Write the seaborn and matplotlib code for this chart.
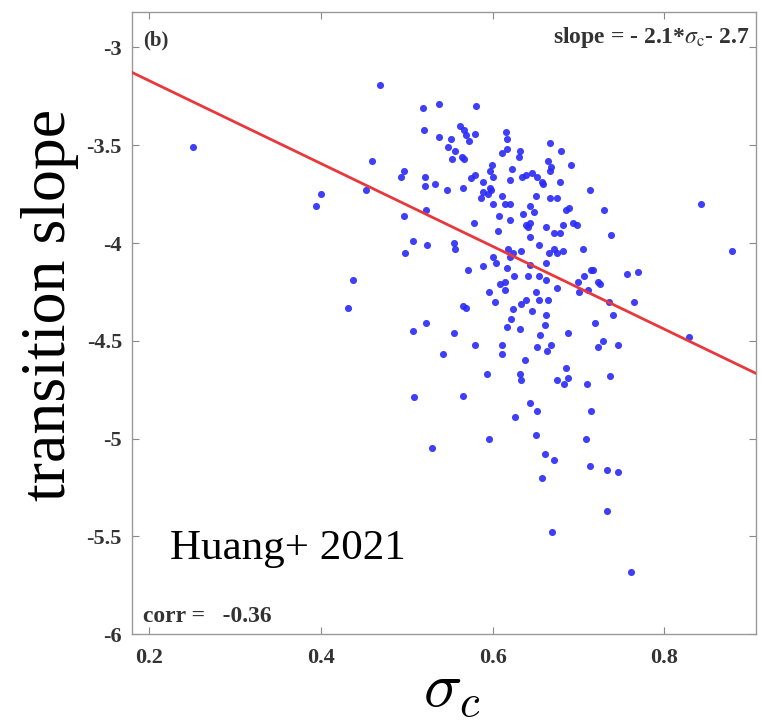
import matplotlib
matplotlib.use("Agg")
import matplotlib.pyplot as plt
import seaborn as sns
import pandas as pd
import numpy as np

sigma_c = [
    0.469, 0.519, 0.538, 0.581, 0.520, 0.538, 0.552, 0.562, 0.567, 0.569,
    0.572, 0.579, 0.548, 0.556, 0.553, 0.564, 0.567, 0.460, 0.400, 0.394,
    0.453, 0.493, 0.497, 0.521, 0.521, 0.533, 0.547, 0.565, 0.575, 0.580,
    0.523, 0.497, 0.578, 0.507, 0.524, 0.498, 0.555, 0.556, 0.571,
    # dense core
    0.616, 0.617, 0.617, 0.611, 0.632, 0.631, 0.667, 0.680, 0.664, 0.668,
    0.667, 0.691, 0.599, 0.597, 0.601, 0.622, 0.634, 0.639, 0.646, 0.652,
    0.658, 0.659, 0.620, 0.679, 0.589, 0.597, 0.589, 0.595, 0.598, 0.586,
    0.601, 0.611, 0.615, 0.620, 0.650, 0.667, 0.675, 0.644, 0.648, 0.635,
    0.685, 0.689, 0.713, 0.730, 0.608, 0.620, 0.606, 0.639, 0.644, 0.641,
    0.662, 0.672, 0.679, 0.682, 0.694, 0.698, 0.643, 0.654, 0.666, 0.671,
    0.675, 0.682, 0.705, 0.738, 0.618, 0.624, 0.620, 0.633, 0.601, 0.604,
    0.589, 0.662, 0.617, 0.643, 0.641, 0.654, 0.706, 0.714, 0.717, 0.756,
    0.769, 0.843, 0.879,
    # lower core
    0.596, 0.603, 0.609, 0.615, 0.615, 0.625, 0.662, 0.651, 0.654, 0.665,
    0.675, 0.699, 0.711, 0.701, 0.723, 0.725, 0.736, 0.764, 0.740, 0.719,
    0.688, 0.829, 0.729, 0.723, 0.746, 0.555, 0.542, 0.580, 0.611, 0.611,
    0.617, 0.621, 0.632, 0.624, 0.633, 0.639, 0.646, 0.655, 0.661, 0.662,
    0.652, 0.663, 0.668, 0.638, 0.594, 0.632, 0.633, 0.685, 0.675, 0.688,
    0.683, 0.710, 0.737, 0.566, 0.644, 0.652, 0.626, 0.714, 0.596, 0.651,
    0.709, 0.566, 0.569,
    # outer points
    0.438, 0.432, 0.507, 0.522, 0.508,
    0.529, 0.661, 0.672, 0.658, 0.713, 0.733, 0.746, 0.733, 0.669, 0.761,
    0.251,
]

transition_slope = [
    -3.19, -3.31, -3.29, -3.30, -3.42, -3.46, -3.47, -3.40, -3.42, -3.45,
    -3.48, -3.44, -3.51, -3.53, -3.57, -3.56, -3.57, -3.58, -3.75, -3.81,
    -3.73, -3.66, -3.63, -3.66, -3.71, -3.70, -3.73, -3.72, -3.67, -3.65,
    -3.83, -3.86, -3.90, -3.99, -4.01, -4.05, -4.00, -4.03, -4.14,
    # dense core
    -3.43, -3.47, -3.52, -3.54, -3.53, -3.56, -3.49, -3.53, -3.58, -3.61,
    -3.63, -3.60, -3.60, -3.63, -3.66, -3.62, -3.66, -3.65, -3.64, -3.66,
    -3.69, -3.70, -3.68, -3.69, -3.69, -3.72, -3.74, -3.75, -3.73, -3.77,
    -3.80, -3.76, -3.80, -3.80, -3.76, -3.77, -3.77, -3.81, -3.84, -3.85,
    -3.83, -3.82, -3.73, -3.83, -3.86, -3.88, -3.94, -3.91, -3.90, -3.92,
    -3.92, -3.95, -3.95, -3.91, -3.90, -3.91, -3.97, -4.01, -4.05, -4.03,
    -4.05, -4.04, -4.03, -3.96, -4.03, -4.05, -4.07, -4.04, -4.07, -4.10,
    -4.12, -4.10, -4.13, -4.11, -4.17, -4.17, -4.17, -4.14, -4.14, -4.16,
    -4.15, -3.80, -4.04,
    # lower core
    -4.25, -4.30, -4.21, -4.20, -4.24, -4.17, -4.19, -4.25, -4.29, -4.29,
    -4.23, -4.20, -4.24, -4.25, -4.20, -4.21, -4.30, -4.30, -4.37, -4.41,
    -4.46, -4.48, -4.50, -4.53, -4.52, -4.46, -4.57, -4.52, -4.52, -4.57,
    -4.43, -4.39, -4.44, -4.34, -4.31, -4.29, -4.35, -4.47, -4.42, -4.37,
    -4.53, -4.55, -4.52, -4.60, -4.67, -4.67, -4.70, -4.64, -4.70, -4.69,
    -4.72, -4.72, -4.68, -4.78, -4.82, -4.86, -4.89, -4.86, -5.00, -4.98,
    -5.00, -4.32, -4.33,
    # outer points
    -4.19, -4.33, -4.45, -4.41, -4.79,
    -5.05, -5.08, -5.11, -5.20, -5.14, -5.16, -5.17, -5.37, -5.48, -5.68,
    -3.51,
]

fit_slope = -2.12
fit_intercept = -2.745
x_ticks = [0.2, 0.4, 0.6, 0.8]
x_tick_labels = ["0.2", "0.4", "0.6", "0.8"]
y_ticks = [-6, -5.5, -5, -4.5, -4, -3.5, -3]
y_tick_labels = ["-6", "-5.5", "-5", "-4.5", "-4", "-3.5", "-3"]
x_limits = (0.18, 0.907)
y_limits = (-6.0, -2.82)

df = pd.DataFrame({"sigma_c": sigma_c, "slope": transition_slope})

sns.set_theme(style="white")
plt.rcParams["font.family"] = ["Liberation Serif", "DejaVu Serif"]
plt.rcParams["mathtext.fontset"] = "stix"

fig = plt.figure(figsize=(7.61, 7.23), dpi=100)
ax = fig.add_axes([0.173, 0.123, 0.821, 0.860])

sns.scatterplot(data=df, x="sigma_c", y="slope", ax=ax, marker="o",
                color="#2a2af8", s=26, linewidth=0, alpha=0.9, zorder=2)

xl = np.array(x_limits)
ax.plot(xl, fit_slope * xl + fit_intercept, color="#e8383d", lw=2.0, zorder=3)

ax.set_xlim(*x_limits)
ax.set_ylim(*y_limits)
ax.set_xticks(x_ticks)
ax.set_xticklabels(x_tick_labels)
ax.set_yticks(y_ticks)
ax.set_yticklabels(y_tick_labels)
ax.tick_params(direction="in", length=5, width=0.8, color="#888888",
               top=True, right=True, bottom=True, left=True,
               labelsize=16, labelcolor="#333333")
ax.tick_params(axis="x", pad=10)
ax.tick_params(axis="y", pad=7)
for lab in ax.get_xticklabels() + ax.get_yticklabels():
    lab.set_fontweight("bold")
for sp in ax.spines.values():
    sp.set_color("#999999")
    sp.set_linewidth(1.0)
ax.set_xlabel("")
ax.set_ylabel("")

ax.text(0.018, 0.947, "(b)", transform=ax.transAxes, ha="left", va="baseline",
        fontsize=15, fontweight="bold", color="#333333")
ax.text(0.9896, 0.950, r"slope = - 2.1*$\sigma_{\rm c}$- 2.7", transform=ax.transAxes,
        ha="right", va="baseline", fontsize=17, fontweight="bold", color="#333333")
ax.text(0.0176, 0.020, "corr =   -0.36", transform=ax.transAxes, ha="left",
        va="baseline", fontsize=17, fontweight="bold", color="#333333")
ax.text(0.062, 0.138, "Huang+ 2021", transform=ax.transAxes, ha="left",
        va="center", fontsize=31, color="black")

fig.text(50 / 761, 1 - 305 / 723, "transition slope", rotation=90,
         ha="center", va="center", fontsize=46, color="black")
fig.text(452 / 761, 1 - 707 / 723, r"$\sigma_c$", ha="center", va="baseline",
         fontsize=46, color="black", math_fontfamily="cm")

fig.savefig("out.png", dpi=100)
